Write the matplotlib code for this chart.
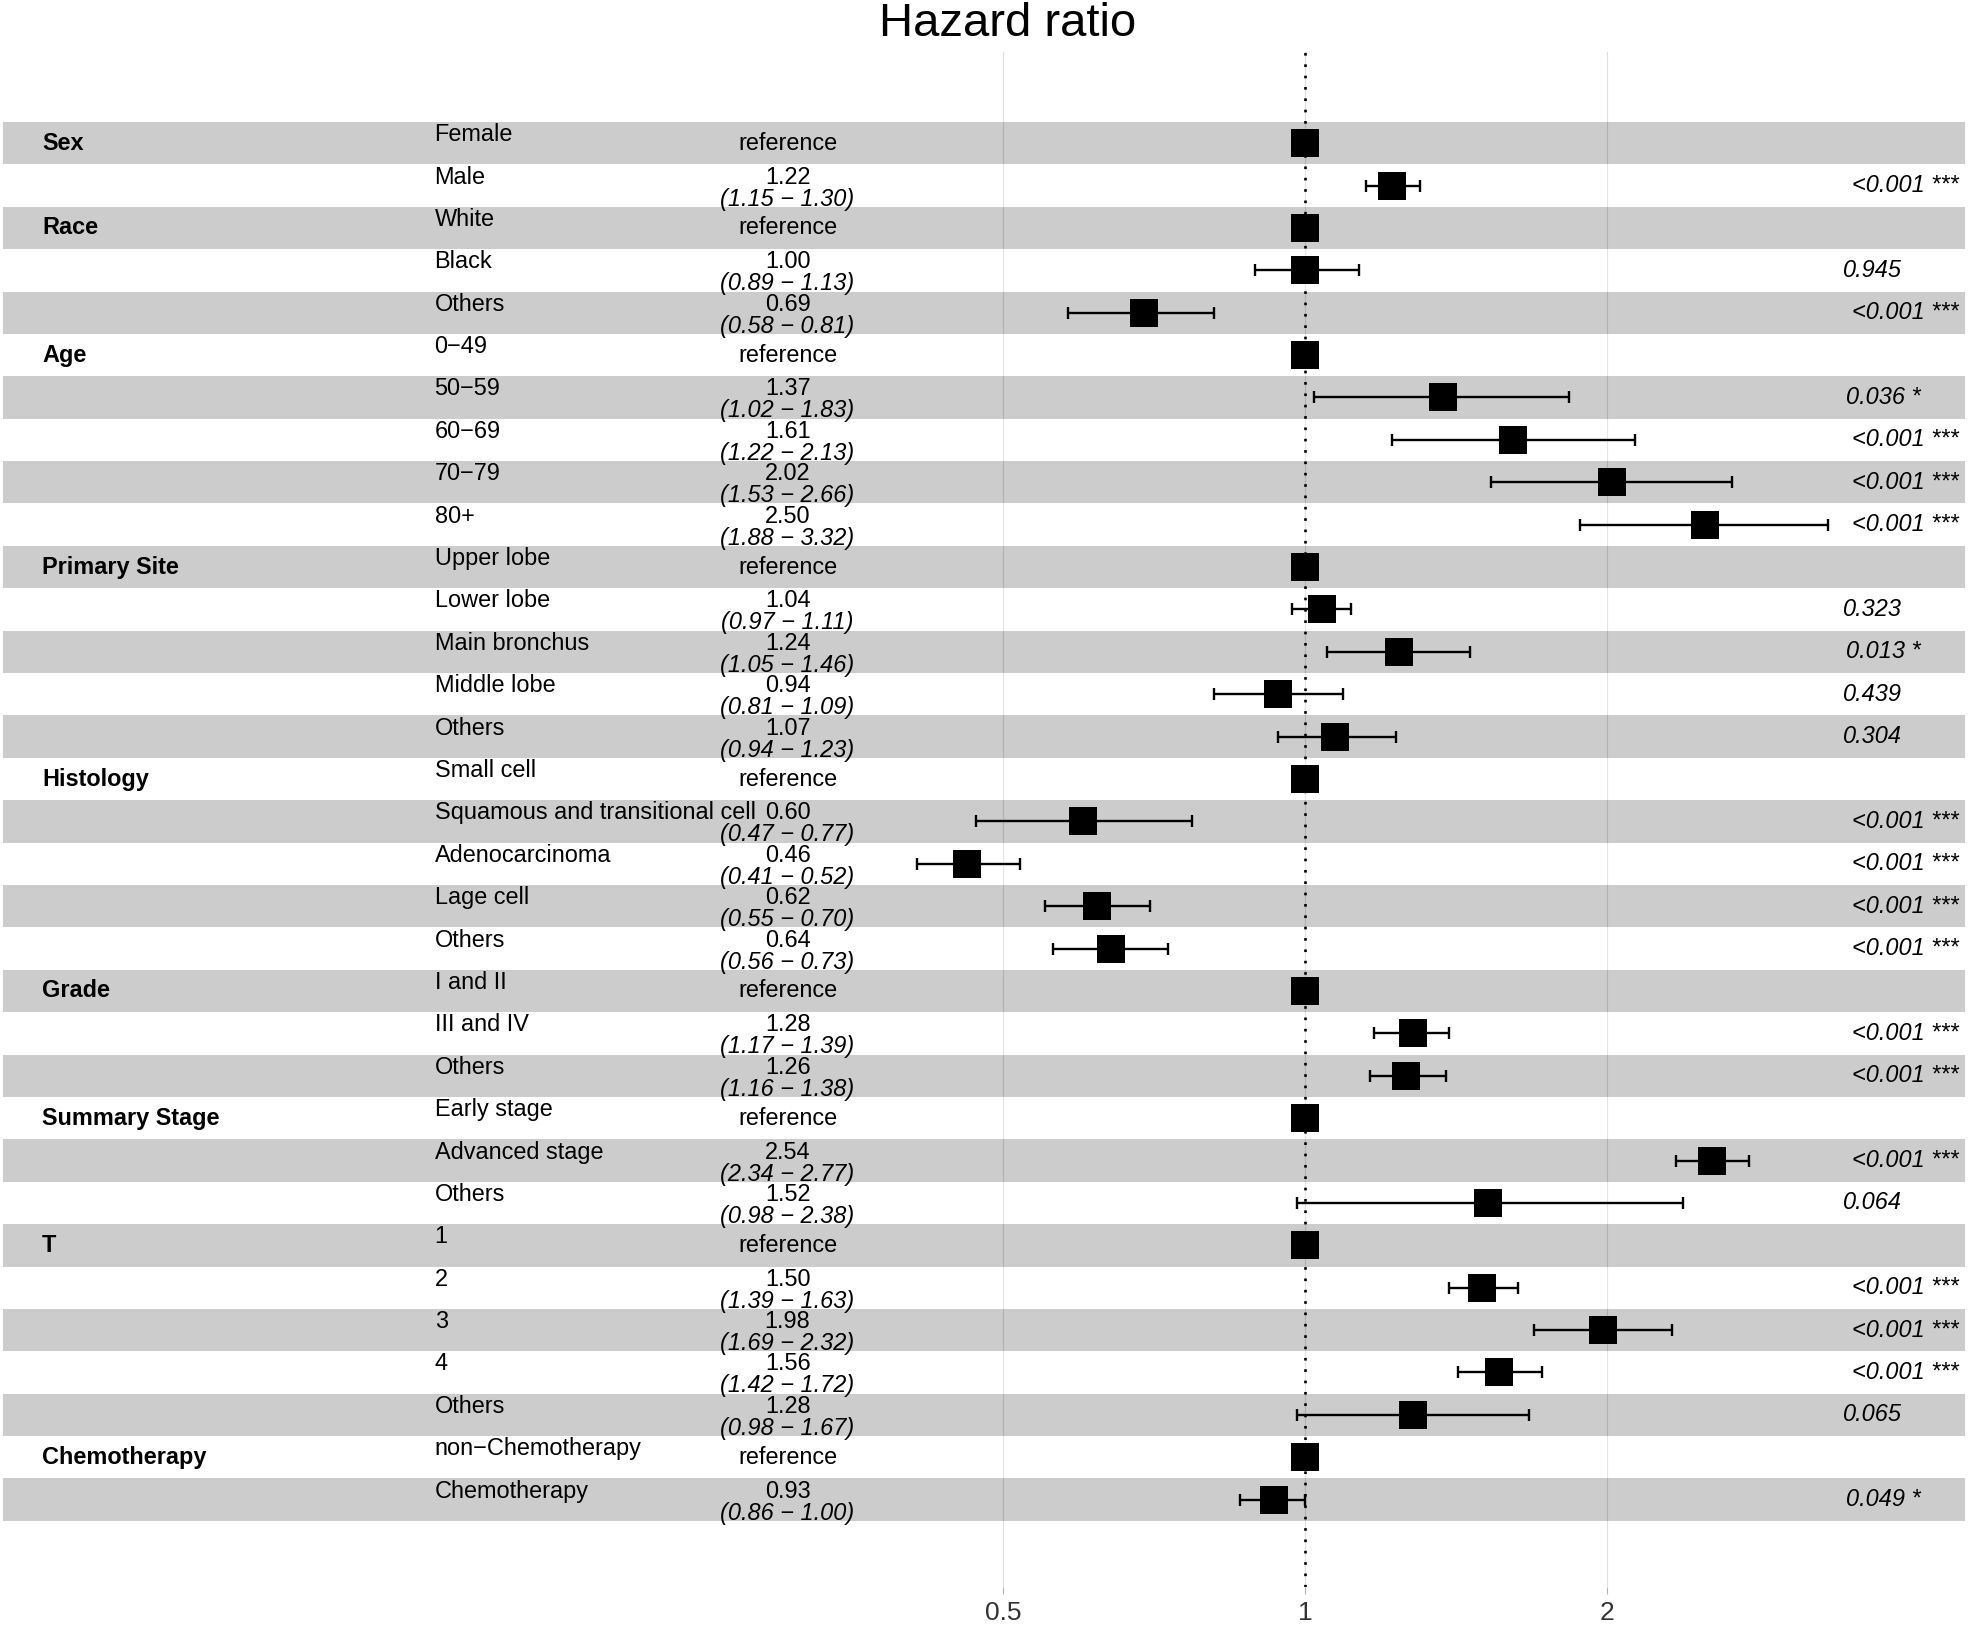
import numpy as np
import matplotlib
matplotlib.use('Agg')
import matplotlib.pyplot as plt
import matplotlib.transforms as mtransforms
from matplotlib.ticker import NullLocator

plt.rcParams['font.family'] = ['Liberation Sans', 'DejaVu Sans']

# Data
groups = ['Sex', 'Race', 'Age', 'Primary Site', 'Histology', 'Grade',
          'Summary Stage', 'T', 'Chemotherapy']
group_sizes = [2, 3, 5, 5, 5, 3, 3, 5, 2]

levels = ['Female', 'Male',
          'White', 'Black', 'Others',
          '0\u221249', '50\u221259', '60\u221269', '70\u221279', '80+',
          'Upper lobe', 'Lower lobe', 'Main bronchus', 'Middle lobe', 'Others',
          'Small cell', 'Squamous and transitional cell', 'Adenocarcinoma', 'Lage cell', 'Others',
          'I and II', 'III and IV', 'Others',
          'Early stage', 'Advanced stage', 'Others',
          '1', '2', '3', '4', 'Others',
          'non\u2212Chemotherapy', 'Chemotherapy']

# np.nan = reference level
hr = [np.nan, 1.22,
      np.nan, 1.00, 0.69,
      np.nan, 1.37, 1.61, 2.02, 2.50,
      np.nan, 1.04, 1.24, 0.94, 1.07,
      np.nan, 0.60, 0.46, 0.62, 0.64,
      np.nan, 1.28, 1.26,
      np.nan, 2.54, 1.52,
      np.nan, 1.50, 1.98, 1.56, 1.28,
      np.nan, 0.93]
ci_low = [np.nan, 1.15,
          np.nan, 0.89, 0.58,
          np.nan, 1.02, 1.22, 1.53, 1.88,
          np.nan, 0.97, 1.05, 0.81, 0.94,
          np.nan, 0.47, 0.41, 0.55, 0.56,
          np.nan, 1.17, 1.16,
          np.nan, 2.34, 0.98,
          np.nan, 1.39, 1.69, 1.42, 0.98,
          np.nan, 0.86]
ci_high = [np.nan, 1.30,
           np.nan, 1.13, 0.81,
           np.nan, 1.83, 2.13, 2.66, 3.32,
           np.nan, 1.11, 1.46, 1.09, 1.23,
           np.nan, 0.77, 0.52, 0.70, 0.73,
           np.nan, 1.39, 1.38,
           np.nan, 2.77, 2.38,
           np.nan, 1.63, 2.32, 1.72, 1.67,
           np.nan, 1.00]
pvals = ['', '<0.001 ***',
         '', '0.945', '<0.001 ***',
         '', '0.036 *', '<0.001 ***', '<0.001 ***', '<0.001 ***',
         '', '0.323', '0.013 *', '0.439', '0.304',
         '', '<0.001 ***', '<0.001 ***', '<0.001 ***', '<0.001 ***',
         '', '<0.001 ***', '<0.001 ***',
         '', '<0.001 ***', '0.064',
         '', '<0.001 ***', '<0.001 ***', '<0.001 ***', '0.065',
         '', '0.049 *']
breaks = [0.5, 1, 2]

hr = np.array(hr)
ci_low = np.array(ci_low)
ci_high = np.array(ci_high)
n = len(levels)
rows = np.arange(n)
is_ref = np.isnan(hr)

W, H = 1969, 1625
fig = plt.figure(figsize=(W / 100, H / 100), dpi=100)
ax = fig.add_axes([3 / W, (H - 1587) / H, 1962 / W, (1587 - 52) / H])
ax.set_xscale('log')
ax.set_xlim(2 ** ((3 - 1305.4) / 302), 2 ** ((1965 - 1305.4) / 302))
ax.set_ylim(34.06, -2.15)

# alternating bands (semi transparent like ggforest)
for i in rows:
    if i % 2 == 0:
        ax.axhspan(i - 0.5, i + 0.5, color='black', alpha=0.2, lw=0, zorder=1)
    else:
        ax.axhspan(i - 0.5, i + 0.5, color='white', alpha=0.2, lw=0, zorder=1)

# grid / axis
ax.set_xticks(breaks)
ax.set_xticklabels(['%g' % b for b in breaks])
ax.xaxis.set_minor_locator(NullLocator())
ax.set_yticks([])
ax.xaxis.grid(True, color='#dedede', lw=0.8)
ax.set_axisbelow(True)
ax.tick_params(axis='x', length=5, width=0.8, color='#b3b3b3',
               labelcolor='#333333', labelsize=19, pad=5)
for s in ax.spines.values():
    s.set_visible(False)

# points and error bars
est = np.where(is_ref, 1.0, hr)
ax.plot(est, rows, 's', ms=20, color='black', mew=0, zorder=3)
ok = ~is_ref
ax.errorbar(hr[ok], rows[ok], xerr=[hr[ok] - ci_low[ok], ci_high[ok] - hr[ok]],
            fmt='none', ecolor='black', elinewidth=1.7, capsize=4.6,
            capthick=1.7, zorder=3)
ax.axvline(1, color='black', lw=1.9, linestyle=(0, (1, 3.3)), zorder=4)

# text table
fs = 16.9
trans = mtransforms.blended_transform_factory(fig.transFigure, ax.transData)
above = mtransforms.offset_copy(trans, fig=fig, y=2, units='dots')
below = mtransforms.offset_copy(trans, fig=fig, y=-2, units='dots')

start = 0
for g, size in zip(groups, group_sizes):
    ax.text(42 / W, start, g, transform=trans, fontsize=fs, fontweight='bold',
            ha='left', va='center')
    start += size

ptexts = []
for i in rows:
    ax.text(434.6 / W, i, levels[i], transform=above, fontsize=fs,
            ha='left', va='baseline')
    if is_ref[i]:
        ax.text(787.6 / W, i, 'reference', transform=trans, fontsize=fs,
                ha='center', va='center')
    else:
        ax.text(787.6 / W, i, '%.2f' % hr[i], transform=above, fontsize=fs,
                ha='center', va='baseline')
        ax.text(787.6 / W, i, '(%.2f \u2212 %.2f)' % (ci_low[i], ci_high[i]),
                transform=below, fontsize=fs, style='italic',
                ha='center', va='top')
    if pvals[i]:
        t = ax.text(1831 / W, i, pvals[i], transform=trans, fontsize=fs,
                    style='italic', ha='left', va='center')
        ptexts.append(t)

# hjust = -0.2 like ggplot
renderer = fig.canvas.get_renderer()
for t in ptexts:
    w = t.get_window_extent(renderer).width
    t.set_x(1831 / W + 0.2 * w / W)

fig.text(1008 / W, 1 - 24 / H, 'Hazard ratio', fontsize=34,
         ha='center', va='center')

fig.savefig('out.png', dpi=100)
